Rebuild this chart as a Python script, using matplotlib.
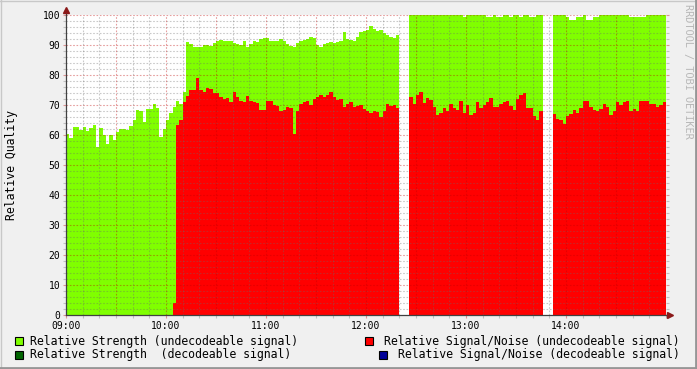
import numpy as np
import matplotlib
matplotlib.use("Agg")
import matplotlib.pyplot as plt
from matplotlib.patches import Rectangle
from matplotlib.lines import Line2D

# ------------------------------------------------------------------
# data: one sample every 2 minutes starting 09:00 (nan = no data)
# ------------------------------------------------------------------
STEP_MIN = 2
nan = np.nan

strength_undec = [
    60.5, 59, 62.6, 62.6, 61.8, 62.8, 61.3, 62.4, 63.2, 56,
    62.5, 60, 57, 60, 58.5, 61, 62, 61.9, 61.7, 63,
    65, 68.3, 68, 64.5, 68.8, 68.8, 70.2, 69, 59.5, 62,
    65, 67.5, 69.5, 71.5, 70.5, 74.2, 91, 90.5, 89.2, 89.2,
    89.5, 90, 90, 89.8, 90.6, 91.2, 91.7, 91.3, 91.5, 91.5,
    90.8, 90.3, 90, 91.5, 89.5, 90.5, 91.5, 91, 91.9, 92.5,
    92.5, 91.5, 91.2, 91.3, 92, 91.3, 90.3, 89.8, 89.4, 90.7,
    91.5, 91.7, 92, 92.8, 92.5, 90, 89.5, 90.5, 90.8, 91,
    90.8, 91, 91.3, 94.5, 92, 91.8, 91.5, 92.8, 94.5, 94.8,
    95.1, 96.5, 95.5, 94.8, 95, 94, 93.2, 92.6, 92.3, 93.3,
    nan, nan, nan, 100, 100, 100, 100, 100, 100, 100,
    100, 100, 100, 100, 100, 100, 100, 100, 100, 99.3,
    100, 100, 100, 100, 100, 100, 99.3, 99.3, 100, 99.3,
    99.3, 100, 100, 99.4, 100, 100, 99.3, 100, 100, 99.3,
    99.3, 100, 100, nan, nan, nan, 100, 100, 100, 100,
    99.5, 98.4, 98.4, 99.3, 99.3, 100, 98.5, 98.5, 99.2, 99.2,
    100, 100, 100, 100, 100, 100, 100, 100, 100, 99.3,
    99.3, 99.4, 99.4, 99.3, 100, 100, 100, 100, 100, 100,
]

snr_undec = [
    0, 0, 0, 0, 0, 0, 0, 0, 0, 0,
    0, 0, 0, 0, 0, 0, 0, 0, 0, 0,
    0, 0, 0, 0, 0, 0, 0, 0, 0, 0,
    0, 0, 4, 63.3, 65, 71, 73, 75, 75, 79,
    75, 74.5, 75.8, 75.2, 74.1, 74, 72.8, 72, 72.5, 71,
    74.3, 72.7, 71.5, 71, 73, 71.5, 71, 70.7, 68.3, 68.5,
    71.3, 71.5, 70, 69.8, 68, 68.4, 69.3, 69, 60.5, 68,
    70.3, 71, 71.5, 70, 72, 72.8, 73.5, 72.7, 73.5, 74.2,
    72.8, 71.6, 72, 69.3, 70.5, 71, 69.5, 69.8, 70, 68.6,
    68, 67.2, 68, 67.8, 66, 68, 70.2, 69.6, 69.9, 69,
    nan, nan, nan, 72.8, 70.5, 73.5, 74.3, 70.6, 72.3, 71.7,
    69.5, 66.8, 67.5, 69, 68, 70.2, 69, 68.3, 71.5, 67.5,
    70, 66.8, 67.5, 71, 69, 69.9, 71, 72.3, 69.5, 69.2,
    70.5, 71.1, 71.3, 69.6, 68.5, 72, 73.5, 74, 69, 69,
    66.5, 65, 68.1, nan, nan, nan, 67.1, 65.3, 65, 63.8,
    66.5, 67, 68.5, 67.5, 69, 71.5, 71.5, 69.3, 68.4, 67.9,
    68.8, 70.5, 69.5, 66.8, 68, 71, 70, 71, 71.4, 68,
    68.8, 68, 71.5, 71.3, 71.5, 70.5, 70.3, 69.5, 69.9, 71,
]

x_ticks = [0, 60, 120, 180, 240, 300]
x_labels = ["09:00", "10:00", "11:00", "12:00", "13:00", "14:00"]
y_ticks = list(range(0, 101, 10))

legend_items = [
    ("Relative Strength (undecodeable signal)", "#80FF00"),
    ("Relative Signal/Noise (undecodeable signal)", "#FF0000"),
    ("Relative Strength  (decodeable signal)", "#006400"),
    ("Relative Signal/Noise (decodeable signal)", "#000099"),
]

# ------------------------------------------------------------------
W, H = 697, 369
MONO = "DejaVu Sans Mono"
BACK = "#F0F0F0"
MINOR = (0.42, 0.42, 0.42, 0.36)    # grey, blended over the areas
MAJOR = (0.75, 0.0, 0.0, 0.38)      # rrdtool's translucent red
ARROW = "#8B1A1A"

def fx(px):
    return px / W

def fy(py):
    return 1 - py / H

fig = plt.figure(figsize=(W / 100, H / 100), dpi=100, facecolor=BACK)
ax = fig.add_axes([fx(66), fy(315), 600 / W, 300 / H])
ax.set_facecolor("white")

t = np.arange(len(strength_undec)) * STEP_MIN
g = np.array(strength_undec, dtype=float)
r = np.array(snr_undec, dtype=float)
ok = ~np.isnan(g)
ax.bar(t[ok], g[ok], width=STEP_MIN, align="edge", color="#80FF00",
       linewidth=0, antialiased=False, zorder=1)
ok = ~np.isnan(r) & (np.nan_to_num(r) > 0)
ax.bar(t[ok], r[ok], width=STEP_MIN, align="edge", color="#FF0000",
       linewidth=0, antialiased=False, zorder=2)

# grid on top of the areas, like rrdtool does
dots = (0, (1.5, 1.5))
for v in range(2, 101, 2):
    col = MAJOR if v % 10 == 0 else MINOR
    ax.axhline(v, color=col, lw=0.8, ls=dots, zorder=3)
for m in range(10, 360, 10):
    col = MAJOR if m % 30 == 0 else MINOR
    ax.axvline(m, color=col, lw=0.8, ls=dots, zorder=3)

ax.set_xlim(0, 360)
ax.set_ylim(0, 100)
ax.set_xticks(x_ticks)
ax.set_xticklabels(x_labels, family=MONO, fontsize=7)
ax.set_yticks(y_ticks)
ax.set_yticklabels([str(v) for v in y_ticks], family=MONO, fontsize=7)
ax.set_yticks(range(0, 101, 2), minor=True)
ax.set_xticks(range(0, 361, 10), minor=True)
ax.tick_params(which="both", direction="out", length=2.5, width=0.8,
               color=MAJOR, pad=1.5, right=True, top=False)
ax.tick_params(which="minor", color=MINOR, length=2)
ax.tick_params(axis="x", pad=2)

for s in ["top", "right"]:
    ax.spines[s].set_visible(False)
for s in ["left", "bottom"]:
    ax.spines[s].set_color("#404040")
    ax.spines[s].set_linewidth(0.9)
    ax.spines[s].set_zorder(4)

# axis arrows
ax.plot([0], [1 + 5 / 300], marker="^", ms=4.5, color=ARROW,
        transform=ax.transAxes, clip_on=False, zorder=5)
ax.plot([0, 0], [1, 1 + 4 / 300], color="#404040", lw=0.9,
        transform=ax.transAxes, clip_on=False)
ax.plot([1 + 4 / 600], [0], marker=">", ms=4.5, color=ARROW,
        transform=ax.transAxes, clip_on=False, zorder=5)
ax.plot([1, 1 + 3 / 600], [0, 0], color="#404040", lw=0.9,
        transform=ax.transAxes, clip_on=False)

fig.text(fx(12), fy(165), "Relative Quality", family=MONO, fontsize=8.3,
         rotation=90, ha="center", va="center")
fig.text(fx(688), fy(4), "RRDTOOL / TOBI OETIKER", family=MONO,
         fontsize=7.4, color="#B8B8B8", rotation=270, ha="center", va="top")

# legend, rrdtool style: two columns, right column right-justified
rows_y = [341, 354.5]
for i, (label, col) in enumerate(legend_items):
    row = rows_y[i // 2]
    if i % 2 == 0:
        sx = 15
        fig.text(fx(30), fy(row), label, family=MONO, fontsize=8.3,
                 ha="left", va="center")
    else:
        fig.text(fx(680), fy(row), label, family=MONO, fontsize=8.3,
                 ha="right", va="center")
        sx = 680 - len(label) * 6.97 - 15
    fig.add_artist(Rectangle((fx(sx), fy(row + 4)), 8 / W, 8 / H,
                             transform=fig.transFigure, facecolor=col,
                             edgecolor="black", linewidth=0.8))

# 3d frame like rrdtool's canvas
fig.add_artist(Line2D([0, 1], [fy(0.5), fy(0.5)], color="#C8C8C8", lw=1))
fig.add_artist(Line2D([fx(0.5), fx(0.5)], [0, 1], color="#C8C8C8", lw=1))
fig.add_artist(Line2D([0, 1], [fy(367.5), fy(367.5)], color="#969696", lw=2))
fig.add_artist(Line2D([fx(696), fx(696)], [0, 1], color="#969696", lw=2))

fig.savefig("out.png", dpi=100, facecolor=BACK)
